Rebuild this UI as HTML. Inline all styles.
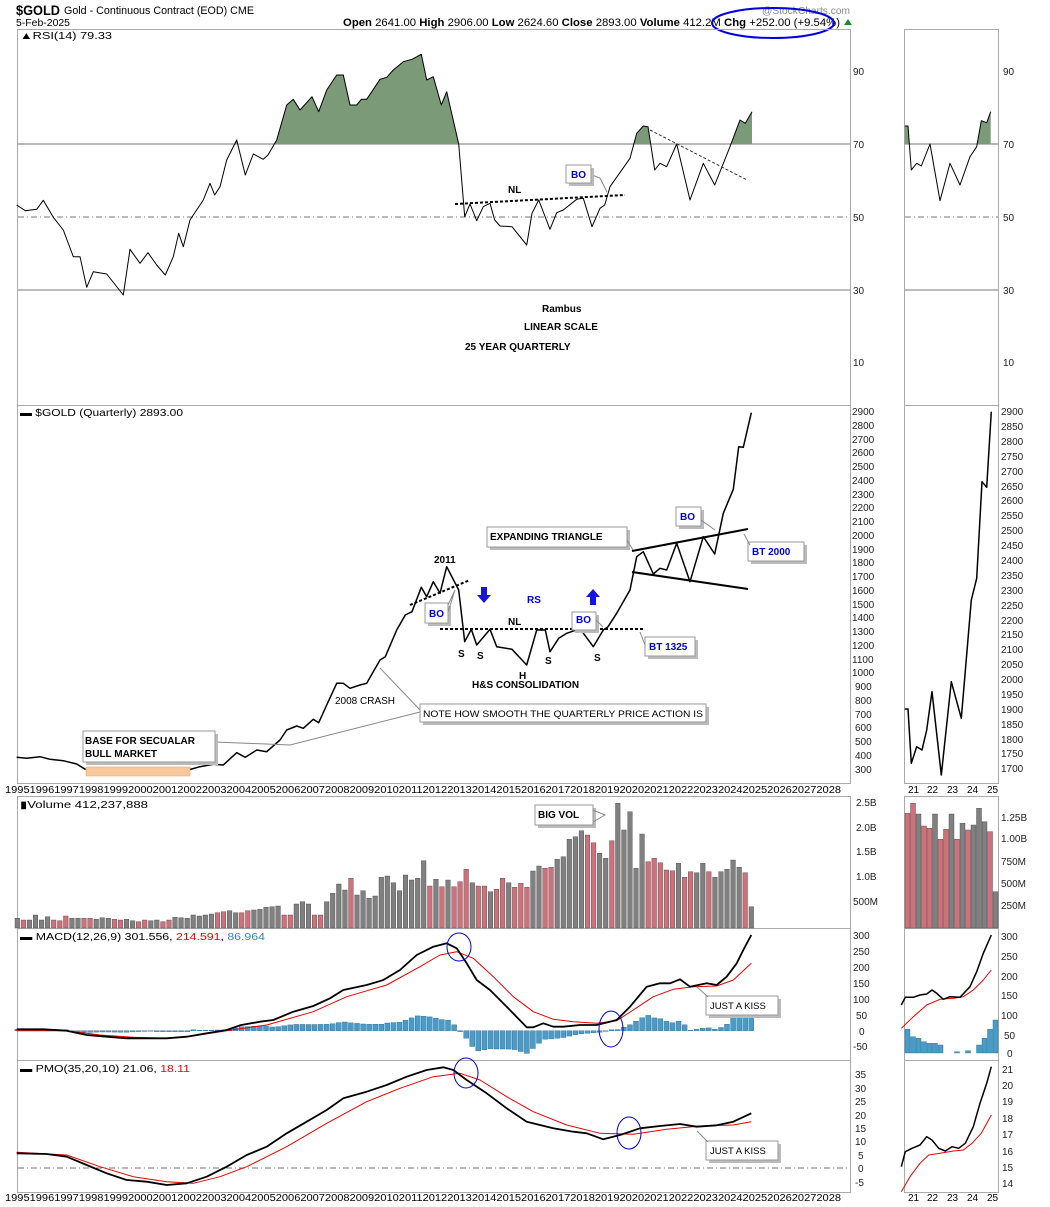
<!DOCTYPE html>
<html><head><meta charset="utf-8"><style>
html,body{margin:0;padding:0;background:#fff;}
svg{display:block;font-family:"Liberation Sans",sans-serif;}
.ax{font-size:10px;fill:#222;}
.b{font-weight:bold;font-size:10px;fill:#000;}
.bl{font-size:10px;fill:#0000dd;font-weight:bold;}
</style></head><body>
<svg id="s" width="1050" height="1207" viewBox="0 0 1050 1207" xmlns="http://www.w3.org/2000/svg">
<rect width="1050" height="1207" fill="#fff"/>
<!-- header -->
<text x="16" y="15" font-size="14" font-weight="bold" textLength="44" lengthAdjust="spacingAndGlyphs">$GOLD</text>
<text x="64" y="14" font-size="11" textLength="190" lengthAdjust="spacingAndGlyphs">Gold - Continuous Contract (EOD) CME</text>
<text x="16" y="26" font-size="10" textLength="54" lengthAdjust="spacingAndGlyphs">5-Feb-2025</text>
<text x="343" y="26" font-size="11" textLength="497" lengthAdjust="spacingAndGlyphs"><tspan font-weight="bold">Open</tspan> 2641.00 <tspan font-weight="bold">High</tspan> 2906.00 <tspan font-weight="bold">Low</tspan> 2624.60 <tspan font-weight="bold">Close</tspan> 2893.00 <tspan font-weight="bold">Volume</tspan> 412.2M <tspan font-weight="bold">Chg</tspan> +252.00 (+9.54%)</text>
<text x="762" y="14" font-size="10" fill="#888" textLength="88" lengthAdjust="spacingAndGlyphs">@StockCharts.com</text>
<polygon points="844,25 848,19 852,25" fill="#1a8a2a"/>
<ellipse cx="773" cy="23" rx="61" ry="15" fill="none" stroke="#0000e0" stroke-width="2"/>

<g fill="none" stroke="#aaa" stroke-width="1">
<rect x="17.5" y="29.5" width="833" height="376"/>
<rect x="17.5" y="405.5" width="833" height="378"/>
<rect x="17.5" y="796.5" width="833" height="132"/>
<rect x="17.5" y="928.5" width="833" height="132"/>
<rect x="17.5" y="1060.5" width="833" height="132"/>
<rect x="904.5" y="29.5" width="94" height="376"/>
<rect x="904.5" y="405.5" width="94" height="378"/>
<rect x="904.5" y="796.5" width="94" height="132"/>
<rect x="904.5" y="928.5" width="94" height="132"/>
<rect x="904.5" y="1060.5" width="94" height="132"/>
</g>
<!-- RSI level lines -->
<g stroke="#777" stroke-width="1">
<line x1="18" y1="144" x2="850" y2="144"/><line x1="18" y1="290" x2="850" y2="290"/>
<line x1="905" y1="144" x2="998" y2="144"/><line x1="905" y1="290" x2="998" y2="290"/>
<line x1="18" y1="217" x2="850" y2="217" stroke-dasharray="6,3,1,3"/>
<line x1="905" y1="217" x2="998" y2="217" stroke-dasharray="6,3,1,3"/>
<line x1="18" y1="1168" x2="850" y2="1168" stroke-dasharray="6,3,1,3"/>
</g>
<g id="series"></g>

<!-- axis labels RSI -->
<g class="ax">
<text x="853" y="75">90</text><text x="853" y="148">70</text><text x="853" y="221">50</text><text x="853" y="294">30</text><text x="853" y="366">10</text>
<text x="1003" y="75">90</text><text x="1003" y="148">70</text><text x="1003" y="221">50</text><text x="1003" y="294">30</text><text x="1003" y="366">10</text>
</g>
<text x="20" y="39" font-size="10" textLength="92" lengthAdjust="spacingAndGlyphs">▲RSI(14) 79.33</text>
<text x="20" y="416" font-size="10" textLength="163" lengthAdjust="spacingAndGlyphs">▬ $GOLD (Quarterly) 2893.00</text>
<text x="20" y="808" font-size="10" textLength="128" lengthAdjust="spacingAndGlyphs">▮Volume 412,237,888</text>
<text x="20" y="940" font-size="10" textLength="245" lengthAdjust="spacingAndGlyphs">▬ MACD(12,26,9) 301.556, <tspan fill="#e00">214.591</tspan>, <tspan fill="#2a8ac8">86.964</tspan></text>
<text x="20" y="1072" font-size="10" textLength="170" lengthAdjust="spacingAndGlyphs">▬ PMO(35,20,10) 21.06, <tspan fill="#e00">18.11</tspan></text>

<!-- price axis -->
<g class="ax" font-size="9.5">
<text x="852" y="415">2900</text><text x="852" y="429">2800</text><text x="852" y="443">2700</text><text x="852" y="456">2600</text><text x="852" y="470">2500</text><text x="852" y="484">2400</text><text x="852" y="498">2300</text><text x="852" y="511">2200</text><text x="852" y="525">2100</text><text x="852" y="539">2000</text><text x="852" y="553">1900</text><text x="852" y="566">1800</text><text x="852" y="580">1700</text><text x="852" y="594">1600</text><text x="852" y="608">1500</text><text x="852" y="621">1400</text><text x="852" y="635">1300</text><text x="852" y="649">1200</text><text x="852" y="663">1100</text><text x="852" y="676">1000</text><text x="855" y="690">900</text><text x="855" y="704">800</text><text x="855" y="718">700</text><text x="855" y="731">600</text><text x="855" y="745">500</text><text x="855" y="759">400</text><text x="855" y="773">300</text>
<text x="1001" y="415">2900</text><text x="1001" y="430">2850</text><text x="1001" y="445">2800</text><text x="1001" y="460">2750</text><text x="1001" y="475">2700</text><text x="1001" y="490">2650</text><text x="1001" y="504">2600</text><text x="1001" y="519">2550</text><text x="1001" y="534">2500</text><text x="1001" y="549">2450</text><text x="1001" y="564">2400</text><text x="1001" y="579">2350</text><text x="1001" y="594">2300</text><text x="1001" y="609">2250</text><text x="1001" y="624">2200</text><text x="1001" y="638">2150</text><text x="1001" y="653">2100</text><text x="1001" y="668">2050</text><text x="1001" y="683">2000</text><text x="1001" y="698">1950</text><text x="1001" y="713">1900</text><text x="1001" y="728">1850</text><text x="1001" y="743">1800</text><text x="1001" y="757">1750</text><text x="1001" y="772">1700</text>
<!-- volume -->
<text x="856" y="806">2.5B</text><text x="856" y="831">2.0B</text><text x="856" y="855">1.5B</text><text x="856" y="880">1.0B</text><text x="853" y="905">500M</text>
<text x="1001" y="821">1.25B</text><text x="1001" y="842">1.00B</text><text x="1001" y="865">750M</text><text x="1001" y="887">500M</text><text x="1001" y="909">250M</text>
<!-- macd -->
<text x="853" y="939">300</text><text x="853" y="955">250</text><text x="853" y="971">200</text><text x="853" y="987">150</text><text x="853" y="1003">100</text><text x="856" y="1019">50</text><text x="859" y="1035">0</text><text x="853" y="1050">-50</text>
<text x="1001" y="940">300</text><text x="1001" y="960">250</text><text x="1001" y="980">200</text><text x="1001" y="999">150</text><text x="1001" y="1019">100</text><text x="1004" y="1039">50</text><text x="1007" y="1057">0</text>
<!-- pmo -->
<text x="855" y="1078">35</text><text x="855" y="1092">30</text><text x="855" y="1105">25</text><text x="855" y="1119">20</text><text x="855" y="1132">15</text><text x="855" y="1145">10</text><text x="858" y="1159">5</text><text x="858" y="1172">0</text><text x="855" y="1186">-5</text>
<text x="1002" y="1073">21</text><text x="1002" y="1089">20</text><text x="1002" y="1105">19</text><text x="1002" y="1122">18</text><text x="1002" y="1138">17</text><text x="1002" y="1155">16</text><text x="1002" y="1171">15</text><text x="1002" y="1187">14</text>
</g>
<!-- x axis -->
<text x="5" y="793" font-size="10" textLength="836" lengthAdjust="spacingAndGlyphs">1995199619971998199920002001200220032004200520062007200820092010201120122013201420152016201720182019202020212022202320242025202620272028</text>
<text x="5" y="1201" font-size="10" textLength="836" lengthAdjust="spacingAndGlyphs">1995199619971998199920002001200220032004200520062007200820092010201120122013201420152016201720182019202020212022202320242025202620272028</text>
<g font-size="10"><text x="908" y="793">21</text><text x="927" y="793">22</text><text x="947" y="793">23</text><text x="967" y="793">24</text><text x="987" y="793">25</text>
<text x="908" y="1201">21</text><text x="927" y="1201">22</text><text x="947" y="1201">23</text><text x="967" y="1201">24</text><text x="987" y="1201">25</text></g>

<!-- RSI annotations -->
<text x="508" y="193" class="b">NL</text>
<line x1="455" y1="204" x2="625" y2="195" stroke="#000" stroke-width="2" stroke-dasharray="3,2"/>
<line x1="650" y1="130" x2="747" y2="180" stroke="#333" stroke-width="1" stroke-dasharray="3,2"/>
<polyline points="592,175 600,178 607,192" fill="none" stroke="#888"/>
<rect x="569" y="168" width="25" height="18" fill="#bbb"/><rect x="566" y="165" width="25" height="18" fill="#fff" stroke="#999"/>
<text x="571" y="178" class="bl" font-weight="normal" font-size="9">BO</text>
<text x="542" y="312" class="b" font-size="11">Rambus</text>
<text x="524" y="330" class="b" font-size="11">LINEAR SCALE</text>
<text x="465" y="350" class="b" font-size="12">25 YEAR QUARTERLY</text>

<!-- Price annotations -->
<rect x="86" y="767" width="104" height="9" fill="#f7c89b" stroke="#e8a060" stroke-width="0.5"/>
<polyline points="215,742 290,745 420,712" fill="none" stroke="#888"/>
<polyline points="380,668 420,710" fill="none" stroke="#888"/>
<rect x="86" y="734" width="132" height="31" fill="#bbb"/><rect x="83" y="731" width="132" height="31" fill="#fff" stroke="#999"/>
<text x="85" y="744" class="b" font-size="10.5">BASE FOR SECUALAR</text>
<text x="85" y="757" class="b" font-size="10.5">BULL MARKET</text>
<text x="335" y="704" font-size="10">2008 CRASH</text>
<rect x="423" y="707" width="286" height="18" fill="#bbb"/><rect x="420" y="704" width="286" height="18" fill="#fff" stroke="#999"/>
<text x="423" y="717" font-size="9.5" textLength="280" lengthAdjust="spacingAndGlyphs">NOTE HOW SMOOTH THE QUARTERLY PRICE ACTION IS</text>
<text x="434" y="563" class="b">2011</text>
<line x1="410" y1="605" x2="470" y2="580" stroke="#000" stroke-width="2" stroke-dasharray="3,2"/>
<rect x="428" y="606" width="23" height="20" fill="#bbb"/><rect x="425" y="603" width="23" height="20" fill="#fff" stroke="#999"/>
<polyline points="448,605 455,590 448,612" fill="none" stroke="#888"/>
<text x="429" y="617" class="bl" font-weight="normal">BO</text>
<path d="M481,587 h6 v8 h4 l-7,8 l-7,-8 h4z" fill="#1515e0"/>
<path d="M590,605 h6 v-8 h4 l-7,-8 l-7,8 h4z" fill="#1515e0"/>
<text x="527" y="603" class="bl">RS</text>
<text x="508" y="625" class="b">NL</text>
<line x1="440" y1="629" x2="645" y2="629" stroke="#000" stroke-width="2" stroke-dasharray="3,2"/>
<rect x="575" y="615" width="24" height="18" fill="#bbb"/><rect x="572" y="612" width="24" height="18" fill="#fff" stroke="#999"/>
<text x="576" y="623" class="bl" font-weight="normal">BO</text>
<polyline points="596,620 603,627" fill="none" stroke="#888"/>
<rect x="648" y="640" width="50" height="19" fill="#bbb"/><rect x="645" y="637" width="50" height="19" fill="#fff" stroke="#999"/>
<text x="649" y="650" class="bl" font-weight="normal">BT 1325</text>
<polyline points="645,645 640,632" fill="none" stroke="#888"/>
<g class="b" font-size="11"><text x="458" y="657">S</text><text x="477" y="659">S</text><text x="545" y="664">S</text><text x="594" y="661">S</text><text x="519" y="679">H</text></g>
<text x="472" y="688" class="b">H&amp;S CONSOLIDATION</text>
<rect x="490" y="530" width="140" height="20" fill="#bbb"/><rect x="487" y="527" width="140" height="20" fill="#fff" stroke="#999"/>
<text x="490" y="540" class="b">EXPANDING TRIANGLE</text>
<polyline points="627,540 633,550" fill="none" stroke="#888"/>
<line x1="632" y1="551" x2="748" y2="529" stroke="#000" stroke-width="2"/>
<line x1="632" y1="572" x2="748" y2="589" stroke="#000" stroke-width="2"/>
<rect x="679" y="510" width="25" height="19" fill="#bbb"/><rect x="676" y="507" width="25" height="19" fill="#fff" stroke="#999"/>
<text x="680" y="520" class="bl">BO</text>
<polyline points="701,520 715,530" fill="none" stroke="#888"/>
<rect x="751" y="545" width="56" height="19" fill="#bbb"/><rect x="748" y="542" width="56" height="19" fill="#fff" stroke="#999"/>
<text x="752" y="555" class="bl">BT 2000</text>
<polyline points="750,545 744,534" fill="none" stroke="#888"/>
<!-- volume annotation -->
<rect x="538" y="808" width="58" height="20" fill="#bbb"/><rect x="535" y="805" width="58" height="20" fill="#fff" stroke="#999"/>
<text x="538" y="818" class="b">BIG VOL</text>
<polyline points="593,810 605,815 593,822" fill="none" stroke="#888"/>
<!-- macd / pmo annotations -->
<g fill="none" stroke="#0000e0" stroke-width="1">
<ellipse cx="459" cy="947" rx="12" ry="14"/><ellipse cx="611" cy="1029" rx="12" ry="18"/>
<ellipse cx="466" cy="1073" rx="12" ry="15"/><ellipse cx="629" cy="1133" rx="12" ry="16"/>
</g>
<rect x="709" y="999" width="72" height="19" fill="#bbb"/><rect x="706" y="996" width="72" height="19" fill="#fff" stroke="#999"/>
<text x="710" y="1009" font-size="9.5">JUST A KISS</text>
<polyline points="708,997 697,987" fill="none" stroke="#888"/>
<rect x="709" y="1144" width="72" height="19" fill="#bbb"/><rect x="706" y="1141" width="72" height="19" fill="#fff" stroke="#999"/>
<text x="710" y="1154" font-size="9.5">JUST A KISS</text>
<polyline points="708,1142 697,1131" fill="none" stroke="#888"/>
</svg>
<script>
(function(){
var NS="http://www.w3.org/2000/svg",G=document.getElementById("series");
function el(t,a){var e=document.createElementNS(NS,t);for(var k in a)e.setAttribute(k,a[k]);G.appendChild(e);return e;}
function pts(a,off){var r=[];for(var i=0;i<a.length;i+=2)r.push([a[i]/1.5,off+a[i+1]/3]);return r;}
function str(p){return p.map(function(q){return q[0].toFixed(1)+","+q[1].toFixed(1)}).join(" ");}
function line(p,c,w){el("polyline",{points:str(p),fill:"none",stroke:c,"stroke-width":w,"stroke-linejoin":"round"});}
function interp(p,x){if(x<=p[0][0])return p[0][1];for(var i=1;i<p.length;i++){if(x<=p[i][0]){var t=(x-p[i-1][0])/(p[i][0]-p[i-1][0]);return p[i-1][1]+t*(p[i][1]-p[i-1][1]);}}return p[p.length-1][1];}
var defs=el("defs",{});
var cp=document.createElementNS(NS,"clipPath");cp.setAttribute("id","above");var r=document.createElementNS(NS,"rect");r.setAttribute("x",0);r.setAttribute("y",0);r.setAttribute("width",1050);r.setAttribute("height",144);cp.appendChild(r);defs.appendChild(cp);
function rsi(p){var poly=p.slice();poly.push([p[p.length-1][0],144]);poly.push([p[0][0],144]);
el("polygon",{points:str(poly),fill:"#7a9a78","clip-path":"url(#above)"});line(p,"#000",1);}
rsi(pts([25,615,38,632,55,628,65,601,80,652,95,690,110,770,120,770,130,862,140,815,160,822,185,885,195,748,210,790,222,758,235,795,248,825,260,770,268,700,275,740,285,660,305,600,315,550,322,585,330,560,340,480,355,420,368,525,380,462,395,478,402,465,415,420,430,315,440,298,450,330,468,290,478,335,490,270,505,225,515,225,525,315,535,315,542,298,550,298,570,238,580,232,590,210,605,185,618,178,632,163,640,240,650,230,662,315,670,275,688,432,697,650,705,612,715,662,725,620,735,610,742,660,750,678,768,680,790,735,798,640,808,600,825,688,835,638,845,630,865,598,875,595,888,680,900,625,907,615,915,560,945,475,955,400,965,378,972,380,982,510,990,490,1000,500,1015,432,1035,600,1055,490,1072,555,1095,440,1110,360,1118,370,1128,335],0));
rsi(pts([1357,378,1362,378,1367,510,1375,490,1382,498,1395,432,1410,602,1425,490,1440,555,1455,470,1465,440,1472,362,1480,368,1486,335],0));
line(pts([25,1072,40,1075,60,1070,75,1078,95,1082,115,1092,128,1108,150,1110,170,1113,185,1125,195,1112,215,1118,235,1125,250,1125,262,1115,275,1120,282,1110,300,1100,320,1093,335,1095,355,1058,368,1072,385,1050,400,1055,420,1020,430,990,445,978,455,985,470,958,478,968,490,915,505,850,515,850,525,865,540,855,550,850,570,780,578,770,595,690,608,645,618,635,632,562,640,590,650,545,660,580,670,500,688,570,697,725,707,688,715,735,735,688,745,740,768,748,790,795,805,690,818,690,825,755,838,715,850,700,870,686,890,740,905,690,912,680,925,640,945,570,955,470,965,455,980,522,990,505,1000,510,1015,430,1035,545,1055,410,1072,462,1085,340,1100,268,1108,140,1115,142,1127,38],400),"#000",1.5);
line(pts([128,1108,150,1110,170,1113,185,1125,195,1112,215,1118,235,1125,250,1125,262,1115,275,1120,282,1110],400),"#8a5a20",1.2);
line(pts([1357,927,1362,927,1367,1090,1375,1040,1383,1050,1390,990,1398,875,1412,1125,1427,845,1442,955,1457,600,1465,535,1473,245,1480,262,1487,35],400),"#000",1.5);
var tops=[385,390,390,375,390,380,390,392,378,385,385,385,385,388,383,385,388,390,388,392,395,390,392,390,395,390,382,383,385,375,378,375,372,368,365,362,368,368,362,360,358,352,350,348,375,375,342,335,
342,375,375,335,310,282,300,265,315,302,325,318,262,258,278,302,255,270,265,212,288,268,290,270,290,275,238,278,288,288,305,298,265,278,292,280,292,243,228,235,232,208,200,148,140,122,135,158,190,205,152,40,120,65,235,132,215,205,218,240,242,220,262,245,248,220,245,262,245,238,210,232,248,350];
var red={1:1,6:1,7:1,8:1,11:1,12:1,16:1,17:1,20:1,21:1,24:1,25:1,33:1,34:1,37:1,38:1,44:1,45:1};
[1,2,7,20,22,24,25,26,28,29,31,32,34,35,36,39,40,46,47,50,56,57,58,59,60,62,63,66,72].forEach(function(k){red[48+k]=1;});
var n=tops.length,step=(751-17)/(n-1);
for(var i=0;i<n;i++){var x=17+i*step,y=790+tops[i]/3;el("rect",{x:(x-2).toFixed(1),y:y.toFixed(1),width:4.6,height:(928-y).toFixed(1),fill:red[i]?"#d0707a":"#808080",stroke:"#444","stroke-width":0.4});}
var st=[70,40,72,108,115,72,148,118,72,148,100,120,105,55,95,125,305],sr={0:1,1:1,3:1,4:1,6:1,7:1,9:1,11:1,15:1};
for(var i=0;i<st.length;i++){var x=905+i*5.5,y=790+st[i]/3;el("rect",{x:x.toFixed(1),y:y.toFixed(1),width:5,height:(928-y).toFixed(1),fill:sr[i]?"#d0707a":"#808080",stroke:"#444","stroke-width":0.4});}
var mb=pts([25,718,65,718,100,722,130,735,160,740,190,745,220,745,250,745,280,740,310,730,340,720,360,706,390,695,410,690,440,665,470,648,495,625,515,600,550,585,575,570,600,540,625,495,650,470,670,460,685,475,700,520,715,570,735,600,760,650,790,712,800,712,815,700,830,710,845,710,870,705,895,705,925,690,945,650,970,590,990,580,1005,580,1020,568,1035,590,1060,580,1075,585,1090,560,1105,520,1115,480,1127,435],790);
var ms=pts([25,722,100,722,150,735,200,742,250,745,290,738,340,722,400,705,470,665,520,620,580,585,630,530,660,495,685,485,710,505,740,560,770,620,800,665,830,688,860,695,895,700,925,692,950,660,980,620,1010,598,1040,590,1075,588,1100,570,1127,520],790);
var z=1030.7;
for(var i=0;i<n;i++){var x=17+i*step;var h=(interp(ms,x)-interp(mb,x))*1.1;if(h>17)h=17;if(h<-23)h=-23;if(Math.abs(h)<0.5)h=h<0?-1:1;var y=h>0?z-h:z;el("rect",{x:(x-2.2).toFixed(1),y:y.toFixed(1),width:5,height:Math.abs(h).toFixed(1),fill:"#4a9cc8",stroke:"#2a6a90","stroke-width":0.4});}
line(ms,"#e00",1);line(mb,"#000",1.8);
var sh=[718,740,745,755,760,760,765,788,788,785,788,782,788,765,745,718,690];
for(var i=0;i<sh.length;i++){var x=905+i*5.5,y=790+sh[i]/3;var h=1053-y;if(h<0.5)continue;el("rect",{x:x.toFixed(1),y:y.toFixed(1),width:5,height:h.toFixed(1),fill:"#4a9cc8",stroke:"#2a6a90","stroke-width":0.4});}
line(pts([1352,715,1370,680,1390,645,1410,628,1430,625,1445,620,1460,600,1475,570,1487,540],790),"#e00",1);
line(pts([1352,645,1358,622,1370,622,1380,615,1390,612,1398,600,1405,610,1415,628,1425,620,1440,622,1455,590,1465,545,1475,490,1487,435],790),"#000",1.5);
line(pts([25,1087,100,1095,150,1130,200,1160,250,1175,290,1180,330,1160,370,1130,430,1070,490,1000,550,935,600,895,650,860,690,850,720,870,760,920,800,965,850,1005,900,1030,950,1033,1000,1018,1050,1008,1100,1005,1127,995],790),"#e00",1);
line(pts([25,1090,70,1092,100,1100,130,1125,160,1150,190,1170,220,1175,250,1185,280,1180,310,1160,340,1130,370,1095,400,1070,430,1030,460,995,490,960,515,925,550,905,580,885,610,860,640,840,665,832,680,840,700,870,730,910,760,955,790,995,830,1015,860,1025,880,1030,905,1048,930,1035,960,1015,990,1008,1020,1002,1045,1010,1075,1006,1100,995,1127,970],790),"#000",1.8);
line(pts([1352,1205,1365,1160,1380,1120,1393,1095,1410,1090,1430,1083,1445,1080,1458,1060,1472,1030,1487,975],790),"#e00",1);
line(pts([1352,1130,1358,1085,1368,1075,1380,1065,1390,1040,1398,1050,1408,1075,1418,1083,1428,1070,1438,1075,1448,1060,1460,1010,1470,940,1480,880,1487,830],790),"#000",1.5);
})();
</script>
</body></html>
